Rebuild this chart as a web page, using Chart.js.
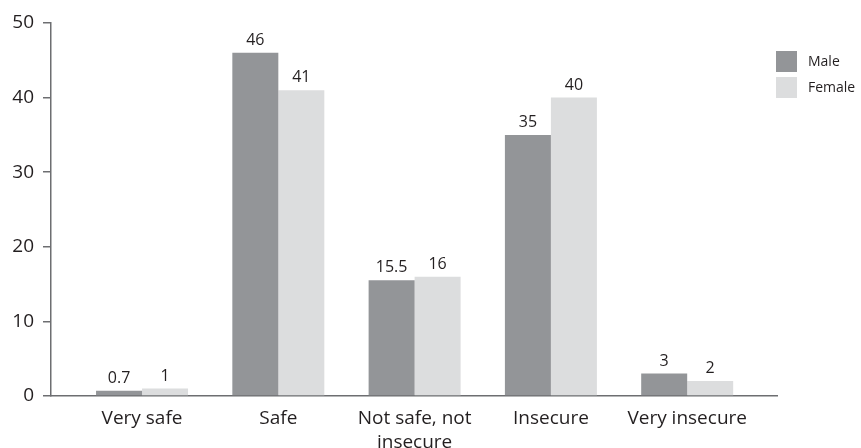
<!DOCTYPE html>
<html>
<head>
<meta charset="utf-8">
<script src="https://cdn.jsdelivr.net/npm/chart.js@4"></script>
<style>
  html, body { margin: 0; padding: 0; background: #ffffff; }
  #wrap { width: 861px; height: 448px; }
</style>
</head>
<body>
<div id="wrap"><canvas id="chart" width="861" height="448"></canvas></div>
<script>
// Perceived safety by gender (%)
const categories = ['Very safe', 'Safe', ['Not safe, not', 'insecure'], 'Insecure', 'Very insecure'];
const seriesNames = ['Male', 'Female'];
const maleValues = [0.7, 46, 15.5, 35, 3];
const femaleValues = [1, 41, 16, 40, 2];
const yTicks = [0, 10, 20, 30, 40, 50];

const TEXT = '#231f20';
const AXIS = '#6d6e71';
const COLORS = ['#939598', '#dcddde'];
const FONT = '"Open Sans", "Noto Sans", sans-serif';

const toPoints = vals => vals.map((v, i) => ({ x: i, y: v }));

// value printed above each bar
const barValues = {
  id: 'barValues',
  afterDatasetsDraw(chart) {
    const ctx = chart.ctx;
    ctx.save();
    ctx.font = '16px ' + FONT;
    ctx.fillStyle = TEXT;
    ctx.textAlign = 'center';
    ctx.textBaseline = 'alphabetic';
    chart.data.datasets.forEach((ds, di) => {
      chart.getDatasetMeta(di).data.forEach((bar, j) => {
        ctx.fillText(String(ds.data[j].y), bar.x, bar.y - 8);
      });
    });
    ctx.restore();
  }
};

// square-swatch legend at the upper right
const sideLegend = {
  id: 'sideLegend',
  afterDraw(chart) {
    const ctx = chart.ctx;
    ctx.save();
    ctx.font = '14px ' + FONT;
    ctx.textAlign = 'left';
    ctx.textBaseline = 'middle';
    chart.data.datasets.forEach((ds, i) => {
      const top = 51 + i * 26;
      ctx.fillStyle = ds.backgroundColor;
      ctx.fillRect(776, top, 21, 21);
      ctx.fillStyle = TEXT;
      ctx.fillText(ds.label, 808, top + 11);
    });
    ctx.restore();
  }
};

new Chart(document.getElementById('chart'), {
  type: 'bar',
  data: {
    datasets: [
      { label: seriesNames[0], data: toPoints(maleValues), backgroundColor: COLORS[0] },
      { label: seriesNames[1], data: toPoints(femaleValues), backgroundColor: COLORS[1] }
    ]
  },
  plugins: [barValues, sideLegend],
  options: {
    responsive: false,
    animation: false,
    events: [],
    categoryPercentage: 0.675,
    barPercentage: 1.0,
    layout: { padding: { top: 23, right: 84, bottom: 0, left: 0 } },
    plugins: {
      legend: { display: false },
      tooltip: { enabled: false },
      title: { display: false }
    },
    scales: {
      x: {
        type: 'linear',
        offset: false,
        min: -0.668,
        max: 4.659,
        afterFit: s => { s.height = 52; },
        afterBuildTicks: s => { s.ticks = categories.map((c, i) => ({ value: i })); },
        grid: { display: true, drawOnChartArea: false, drawTicks: false, offset: false },
        border: { display: true, color: AXIS, width: 1.5 },
        ticks: {
          autoSkip: false,
          maxRotation: 0,
          padding: 10,
          color: TEXT,
          font: { family: FONT, size: 19, lineHeight: 1.3 },
          callback: v => categories[v]
        }
      },
      y: {
        min: 0,
        max: 50,
        afterFit: s => { s.width = 51; },
        afterBuildTicks: s => { s.ticks = yTicks.map(v => ({ value: v })); },
        grid: { display: true, drawOnChartArea: false, drawTicks: true, tickLength: 8, color: AXIS, lineWidth: 1.5 },
        border: { display: true, color: AXIS, width: 1.5 },
        ticks: {
          padding: 9,
          color: TEXT,
          font: { family: FONT, size: 19 }
        }
      }
    }
  }
});
</script>
</body>
</html>
